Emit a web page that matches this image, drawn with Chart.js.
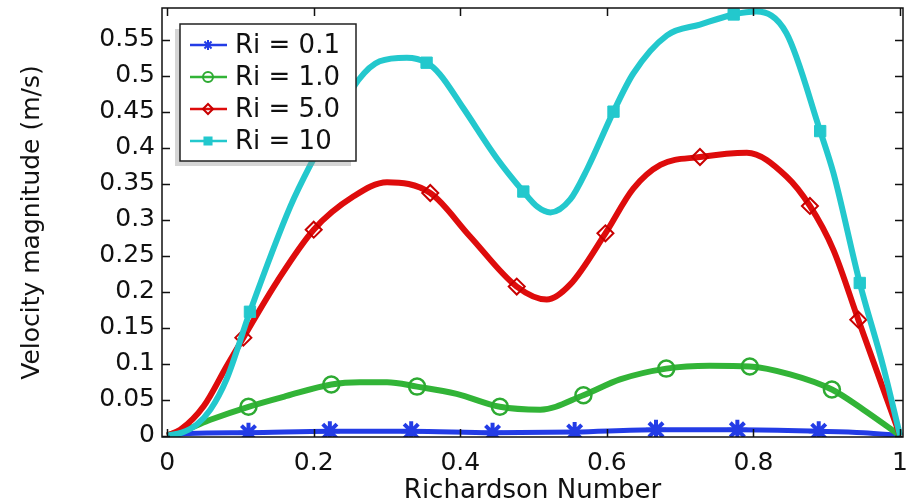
<!DOCTYPE html>
<html>
<head>
<meta charset="utf-8">
<script src="https://cdn.jsdelivr.net/npm/chart.js@4.4.0/dist/chart.umd.min.js"></script>
<style>
  body { margin: 0; background: #fff; }
  #wrap { width: 909px; height: 503px; position: relative; }
</style>
</head>
<body>
<div id="wrap"><canvas id="myChart"></canvas></div>
<script>
// axis ticks
var xTicks = [0, 0.2, 0.4, 0.6, 0.8, 1];
var yTicks = [0, 0.05, 0.1, 0.15, 0.2, 0.25, 0.3, 0.35, 0.4, 0.45, 0.5, 0.55];
var yTickLabels = ['0', '0.05', '0.1', '0.15', '0.2', '0.25', '0.3', '0.35', '0.4', '0.45', '0.5', '0.55'];

var seriesNames = ['Ri = 0.1', 'Ri = 1.0', 'Ri = 5.0', 'Ri = 10'];

// Ri = 0.1
var blueX = [0, 0.03, 0.111, 0.222, 0.333, 0.444, 0.556, 0.667, 0.778, 0.889, 0.95, 1];
var blueY = [0, 0.003, 0.004, 0.006, 0.006, 0.004, 0.005, 0.008, 0.008, 0.006, 0.004, 0];
var blueMarks = [0.111, 0.222, 0.333, 0.444, 0.556, 0.667, 0.778, 0.889];

// Ri = 1.0
var greenX = [0, 0.03, 0.059, 0.111, 0.163, 0.224, 0.263, 0.3, 0.341, 0.395, 0.454, 0.509, 0.568, 0.618, 0.681, 0.74, 0.795, 0.85, 0.907, 0.95, 1];
var greenY = [0, 0.01, 0.022, 0.040, 0.055, 0.071, 0.074, 0.074, 0.068, 0.058, 0.040, 0.036, 0.056, 0.078, 0.093, 0.097, 0.096, 0.085, 0.064, 0.036, 0];
var greenMarks = [0.111, 0.224, 0.341, 0.454, 0.568, 0.681, 0.795, 0.907];

// Ri = 5.0
var redX = [0, 0.018, 0.05, 0.081, 0.104, 0.15, 0.2, 0.254, 0.3, 0.359, 0.413, 0.477, 0.518, 0.55, 0.598, 0.636, 0.673, 0.727, 0.791, 0.845, 0.877, 0.909, 0.943, 1];
var redY = [0, 0.008, 0.041, 0.096, 0.136, 0.214, 0.286, 0.332, 0.352, 0.337, 0.277, 0.207, 0.189, 0.21, 0.281, 0.343, 0.376, 0.387, 0.393, 0.36, 0.319, 0.258, 0.161, 0];
var redMarks = [0.104, 0.2, 0.359, 0.477, 0.598, 0.727, 0.877, 0.943];

// Ri = 10
var cyanX = [0, 0.02, 0.04, 0.059, 0.081, 0.113, 0.168, 0.197, 0.23, 0.261, 0.29, 0.327, 0.354, 0.372, 0.404, 0.45, 0.486, 0.505, 0.523, 0.55, 0.573, 0.609, 0.636, 0.682, 0.727, 0.773, 0.804, 0.845, 0.891, 0.909, 0.945, 0.977, 1];
var cyanY = [0, 0.004, 0.015, 0.036, 0.078, 0.172, 0.318, 0.379, 0.44, 0.494, 0.52, 0.525, 0.518, 0.502, 0.455, 0.385, 0.339, 0.318, 0.31, 0.328, 0.37, 0.45, 0.503, 0.556, 0.571, 0.585, 0.589, 0.559, 0.423, 0.365, 0.212, 0.096, 0];
var cyanMarks = [0.113, 0.354, 0.486, 0.609, 0.773, 0.891, 0.945];

function toPoints(xs, ys) {
  var a = [];
  for (var i = 0; i < xs.length; i++) {
    a.push({x: xs[i], y: ys[i]});
  }
  return a;
}

function markSizes(xs, marks, r) {
  return xs.map(function(x) { return marks.indexOf(x) >= 0 ? r : 0; });
}

var FONT = 'DejaVu Sans';

// frame box with inward ticks on all four sides, like the original plot
var frameTicks = {
  id: 'frameTicks',
  afterDatasetsDraw: function(chart) {
    var ctx = chart.ctx, a = chart.chartArea;
    var sx = chart.scales.x, sy = chart.scales.y;
    var len = 8;
    ctx.save();
    ctx.strokeStyle = '#111';
    ctx.lineWidth = 1.5;
    ctx.strokeRect(a.left, a.top, a.right - a.left, a.bottom - a.top);
    ctx.beginPath();
    xTicks.forEach(function(v) {
      var px = Math.round(sx.getPixelForValue(v)) + 0.5;
      ctx.moveTo(px, a.bottom); ctx.lineTo(px, a.bottom - len);
      ctx.moveTo(px, a.top); ctx.lineTo(px, a.top + len);
    });
    yTicks.forEach(function(v) {
      var py = Math.round(sy.getPixelForValue(v)) + 0.5;
      ctx.moveTo(a.left, py); ctx.lineTo(a.left + len, py);
      ctx.moveTo(a.right, py); ctx.lineTo(a.right - len, py);
    });
    ctx.stroke();
    ctx.restore();
  }
};

// legend box drawn inside the plot, top-left
var boxLegend = {
  id: 'boxLegend',
  afterDraw: function(chart) {
    var ctx = chart.ctx;
    var bx = 180, by = 24, bw = 176, bh = 137;
    ctx.save();
    ctx.fillStyle = 'rgba(150,150,150,0.4)';
    ctx.fillRect(bx - 5, by + 5, bw, bh);
    ctx.fillStyle = '#fff';
    ctx.fillRect(bx, by, bw, bh);
    ctx.strokeStyle = '#222';
    ctx.lineWidth = 1.5;
    ctx.strokeRect(bx, by, bw, bh);
    chart.data.datasets.forEach(function(ds, i) {
      var y = by + 21 + i * 32;
      ctx.strokeStyle = ds.borderColor;
      ctx.lineWidth = 2.5;
      ctx.beginPath();
      ctx.moveTo(bx + 10, y); ctx.lineTo(bx + 47, y);
      ctx.stroke();
      ctx.strokeStyle = ds.pointBorderColor;
      ctx.fillStyle = ds.pointBackgroundColor;
      ctx.lineWidth = 2;
      Chart.helpers.drawPoint(ctx, {pointStyle: ds.pointStyle, radius: 5, rotation: 0, borderWidth: 2}, bx + 28, y);
      ctx.fillStyle = '#111';
      ctx.font = '26px ' + FONT;
      ctx.textBaseline = 'middle';
      ctx.textAlign = 'left';
      ctx.fillText(ds.label, bx + 55, y + 1);
    });
    ctx.restore();
  }
};

var ctx = document.getElementById('myChart').getContext('2d');
var chart = new Chart(ctx, {
  type: 'line',
  data: {
    datasets: [{
      label: seriesNames[0],
      data: toPoints(blueX, blueY),
      borderColor: 'rgb(35,60,230)',
      borderWidth: 5,
      pointStyle: 'star',
      pointRadius: markSizes(blueX, blueMarks, 10),
      pointBorderColor: 'rgb(35,60,230)',
      pointBackgroundColor: 'rgb(35,60,230)',
      pointBorderWidth: 4,
      order: 3
    }, {
      label: seriesNames[1],
      data: toPoints(greenX, greenY),
      borderColor: 'rgb(50,180,55)',
      borderWidth: 6,
      pointStyle: 'circle',
      pointRadius: markSizes(greenX, greenMarks, 8),
      pointBorderColor: 'rgb(45,170,50)',
      pointBackgroundColor: 'rgba(255,255,255,0)',
      pointBorderWidth: 2.5,
      order: 2
    }, {
      label: seriesNames[2],
      data: toPoints(redX, redY),
      borderColor: 'rgb(222,12,12)',
      borderWidth: 6,
      pointStyle: 'rectRot',
      pointRadius: markSizes(redX, redMarks, 8),
      pointBorderColor: 'rgb(200,0,0)',
      pointBackgroundColor: 'rgba(255,255,255,0)',
      pointBorderWidth: 2,
      order: 1
    }, {
      label: seriesNames[3],
      data: toPoints(cyanX, cyanY),
      borderColor: 'rgb(35,200,205)',
      borderWidth: 6,
      pointStyle: 'rect',
      pointRadius: markSizes(cyanX, cyanMarks, 8),
      pointBorderColor: 'rgb(35,200,205)',
      pointBackgroundColor: 'rgb(35,200,205)',
      pointBorderWidth: 1,
      order: 0
    }]
  },
  options: {
    responsive: true,
    maintainAspectRatio: false,
    animation: false,
    events: [],
    cubicInterpolationMode: 'monotone',
    layout: { padding: { top: 8, right: 6, left: 0, bottom: 0 } },
    scales: {
      x: {
        type: 'linear',
        min: -0.007,
        max: 1.004,
        afterBuildTicks: function(s) { s.ticks = xTicks.map(function(v) { return {value: v}; }); },
        afterFit: function(s) { s.height = 66; s.paddingLeft = 0; s.paddingRight = 0; },
        grid: { display: false, drawTicks: false },
        border: { display: false },
        ticks: {
          padding: 11,
          color: '#111',
          font: { family: FONT, size: 25 },
          maxRotation: 0,
          callback: function(v) { return String(v); }
        },
        title: {
          display: true,
          text: 'Richardson Number',
          color: '#111',
          font: { family: FONT, size: 26 },
          padding: { top: 0, bottom: -4 }
        }
      },
      y: {
        type: 'linear',
        min: -0.002,
        max: 0.594,
        afterBuildTicks: function(s) { s.ticks = yTicks.map(function(v) { return {value: v}; }); },
        afterFit: function(s) { s.width = 162; s.paddingTop = 0; s.paddingBottom = 0; },
        grid: { display: false, drawTicks: false },
        border: { display: false },
        ticks: {
          padding: 7,
          color: '#111',
          font: { family: FONT, size: 25 },
          callback: function(v) { return yTickLabels[yTicks.indexOf(v)]; }
        },
        title: {
          display: true,
          text: 'Velocity magnitude (m/s)',
          color: '#111',
          font: { family: FONT, size: 25 },
          padding: { top: 17, bottom: 0 }
        }
      }
    },
    plugins: {
      legend: { display: false },
      tooltip: { enabled: false }
    }
  },
  plugins: [frameTicks, boxLegend]
});
</script>
</body>
</html>
